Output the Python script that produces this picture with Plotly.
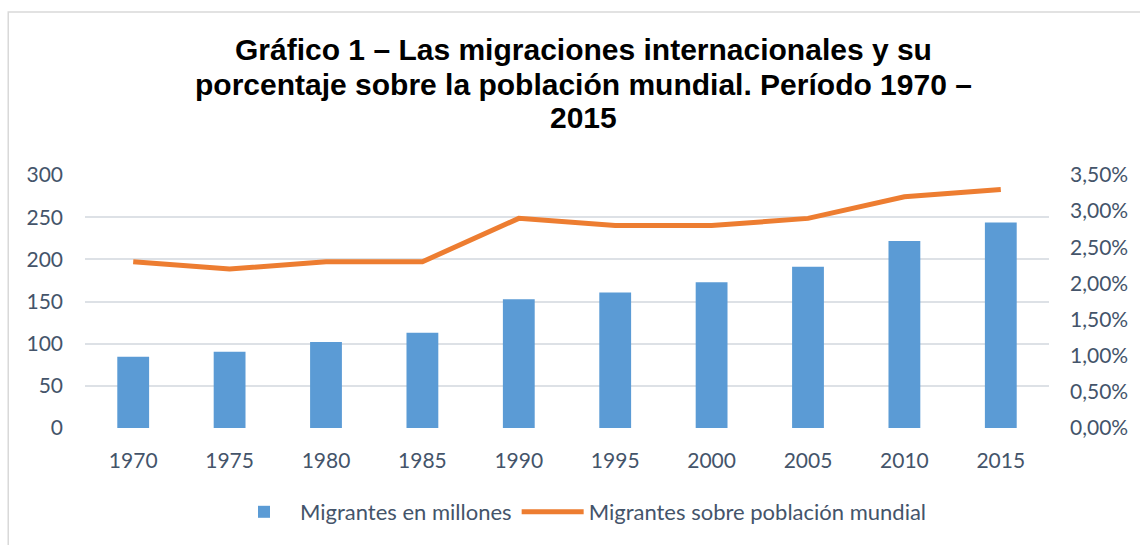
import plotly.graph_objects as go

years = ["1970", "1975", "1980", "1985", "1990", "1995", "2000", "2005", "2010", "2015"]
migrantes_millones = [84.5, 90.4, 102, 113, 152.6, 160.8, 172.7, 191.3, 221.7, 243.7]
porcentaje_poblacion = [0.023, 0.022, 0.023, 0.023, 0.029, 0.028, 0.028, 0.029, 0.032, 0.033]
title_lines = [
    "Gráfico 1 – Las migraciones internacionales y su",
    "porcentaje sobre la población mundial. Período 1970 –",
    "2015",
]

W, H = 1140, 545
L, R, T, B = 85, 1140 - 1052, 175, 545 - 428
pw = W - L - R
ph = H - T - B

tick_font = dict(family="Lato, Open Sans, sans-serif", size=21, color="#44546A")

fig = go.Figure()
fig.add_trace(go.Bar(
    x=years, y=migrantes_millones, name="Migrantes en millones",
    marker=dict(color="#5B9BD5", line=dict(width=0)),
    width=0.33,
))
fig.add_trace(go.Scatter(
    x=years, y=porcentaje_poblacion, name="Migrantes sobre población mundial",
    mode="lines", line=dict(color="#ED7D31", width=5), yaxis="y2",
))

# outer chart border
fig.add_shape(type="rect", xref="paper", yref="paper",
              x0=(8 - L) / pw, x1=(1170 - L) / pw,
              y0=(H - 580 - B) / ph, y1=(H - 12 - B) / ph,
              line=dict(color="#D9D9D9", width=1.5), fillcolor="rgba(0,0,0,0)", layer="below")

# title lines
for line, yc in zip(title_lines, [50, 84, 117]):
    fig.add_annotation(
        text="<b>" + line + "</b>", xref="paper", yref="paper",
        x=(585 - L) / pw, y=(H - yc - B) / ph, xanchor="center", yanchor="middle",
        showarrow=False,
        font=dict(family="Liberation Sans, Arial, sans-serif", size=30, color="black"),
    )

fig.update_layout(
    width=W, height=H,
    margin=dict(l=L, r=R, t=T, b=B),
    paper_bgcolor="white", plot_bgcolor="white",
    separators=",.",
    xaxis=dict(
        type="category", showgrid=False, showline=False, zeroline=False,
        ticks="outside", ticklen=14, tickcolor="rgba(0,0,0,0)", tickfont=tick_font,
    ),
    yaxis=dict(
        range=[0, 300], dtick=50, showgrid=True, gridcolor="#DDE1E6", gridwidth=1.5,
        zeroline=False, showline=False, tickfont=tick_font, ticklabelstandoff=21,
    ),
    yaxis2=dict(
        range=[0, 0.035], dtick=0.005, tickformat=".2%", overlaying="y", side="right",
        showgrid=False, zeroline=False, showline=False, tickfont=tick_font, ticklabelstandoff=20,
    ),
    legend=dict(
        orientation="h", xref="container", x=580 / W, xanchor="center",
        yref="container", y=(H - 512) / H, yanchor="middle",
        font=dict(family="Lato, Open Sans, sans-serif", size=22, color="#44546A"),
        itemwidth=62, traceorder="normal",
    ),
)

fig.write_html("out.html", config={"displayModeBar": False},
               post_script="document.body.style.margin='0';")
